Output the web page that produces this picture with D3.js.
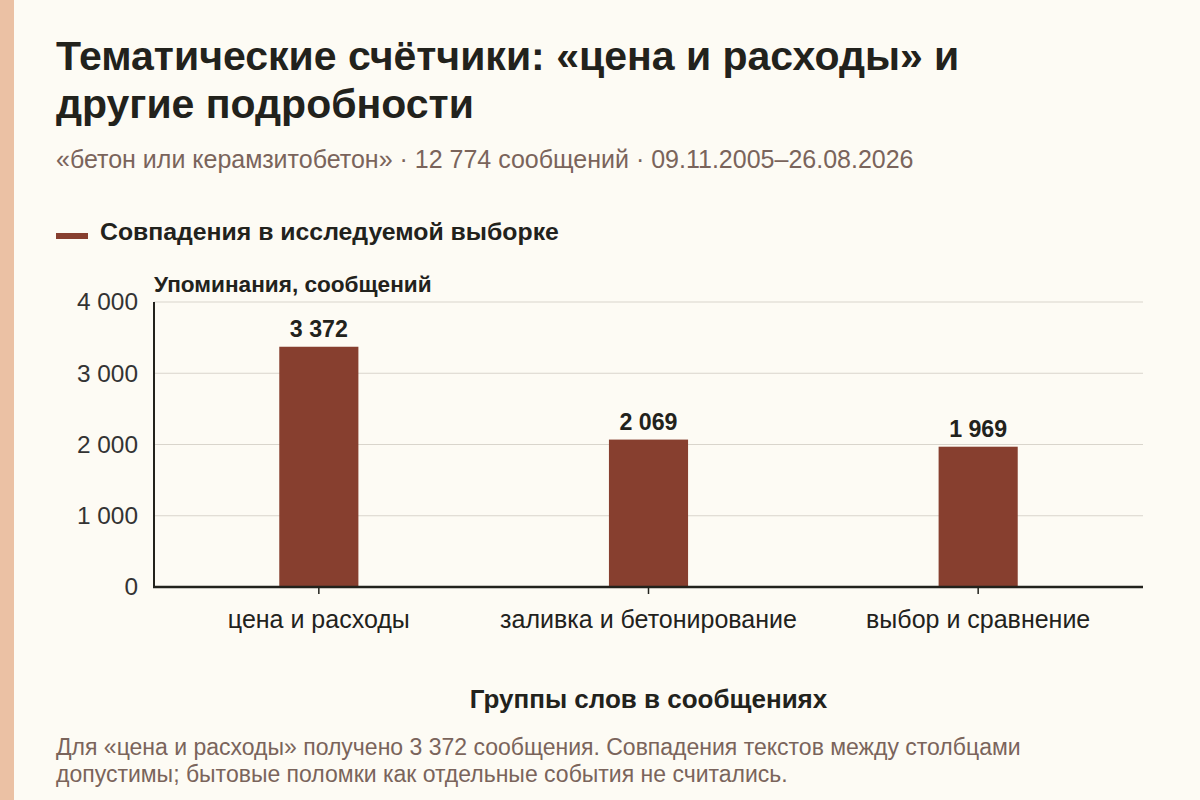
<!DOCTYPE html>
<html>
<head>
<meta charset="utf-8">
<script src="https://cdn.jsdelivr.net/npm/d3@7"></script>
<style>
  html, body { margin: 0; padding: 0; background: #fdfbf4; }
  svg { display: block; font-family: "Liberation Sans", Arial, sans-serif; }
</style>
</head>
<body>
<script>
(function(){
'use strict';

var categories = ['цена и расходы', 'заливка и бетонирование', 'выбор и сравнение'];
var values = [3372, 2069, 1969];
var yTicks = [0, 1000, 2000, 3000, 4000];
var titleLines = ['Тематические счётчики: «цена и расходы» и', 'другие подробности'];
var subtitle = '«бетон или керамзитобетон» · 12 774 сообщений · 09.11.2005–26.08.2026';
var legendLabel = 'Совпадения в исследуемой выборке';
var yTitle = 'Упоминания, сообщений';
var xTitle = 'Группы слов в сообщениях';
var noteLines = ['Для «цена и расходы» получено 3 372 сообщения. Совпадения текстов между столбцами',
                 'допустимы; бытовые поломки как отдельные события не считались.'];

var W = 1200, H = 800;
var barColor = '#873f2f';
var ink = '#22221c';
var muted = '#7a645b';
var font = '"Liberation Sans", Arial, sans-serif';

var fmt = function(v){ return d3.format(',')(v).replace(/,/g, ' '); };

var svg = d3.select('body').append('svg')
            .attr('width', W)
            .attr('height', H);

svg.append('rect').attr('width', W).attr('height', H).attr('fill', '#fdfbf4');
svg.append('rect').attr('width', 14).attr('height', H).attr('fill', '#ebc1a4');

// title block
svg.selectAll('text.title')
   .data(titleLines)
   .enter().append('text')
   .attr('class', 'title')
   .attr('x', 56)
   .attr('y', function(d, i){ return 70 + i * 48; })
   .attr('fill', ink)
   .attr('font-size', 41)
   .attr('font-weight', 'bold')
   .text(function(d){ return d; });

svg.append('text')
   .attr('x', 56).attr('y', 168)
   .attr('fill', muted)
   .attr('font-size', 25)
   .text(subtitle);

// legend
svg.append('rect')
   .attr('x', 56).attr('y', 233)
   .attr('width', 32).attr('height', 6)
   .attr('fill', barColor);
svg.append('text')
   .attr('x', 100).attr('y', 240)
   .attr('fill', ink)
   .attr('font-size', 24.8)
   .attr('font-weight', 'bold')
   .text(legendLabel);

var margin = {left: 154, right: 1143, top: 302, bottom: 587};

var x = d3.scaleBand()
          .domain(categories)
          .range([margin.left, margin.right])
          .paddingInner(0.76)
          .paddingOuter(0.38);

var y = d3.scaleLinear()
          .domain([0, 4000])
          .range([margin.bottom, margin.top]);

// gridlines
svg.append('g')
   .selectAll('line')
   .data(yTicks.slice(1))
   .enter().append('line')
   .attr('x1', margin.left).attr('x2', margin.right)
   .attr('y1', function(d){ return y(d); })
   .attr('y2', function(d){ return y(d); })
   .attr('stroke', '#d9d5cc')
   .attr('stroke-width', 1.2);

// y axis labels
var yAxis = svg.append('g')
   .attr('transform', 'translate(' + margin.left + ',0)')
   .call(d3.axisLeft(y).tickValues(yTicks).tickFormat(fmt).tickSize(0).tickPadding(16));
yAxis.select('.domain').remove();
yAxis.selectAll('text')
     .attr('font-size', 24.4)
     .attr('fill', '#333')
     .attr('font-family', font);

svg.append('text')
   .attr('x', margin.left).attr('y', 292)
   .attr('fill', ink)
   .attr('font-size', 22.6)
   .attr('font-weight', 'bold')
   .text(yTitle);

// bars
svg.append('g')
   .selectAll('rect')
   .data(values)
   .enter().append('rect')
   .attr('x', function(d, i){ return x(categories[i]); })
   .attr('y', function(d){ return y(d); })
   .attr('width', x.bandwidth())
   .attr('height', function(d){ return y(0) - y(d); })
   .attr('fill', barColor);

svg.append('g')
   .selectAll('text')
   .data(values)
   .enter().append('text')
   .attr('x', function(d, i){ return x(categories[i]) + x.bandwidth() / 2; })
   .attr('y', function(d){ return y(d) - 10; })
   .attr('text-anchor', 'middle')
   .attr('fill', ink)
   .attr('font-size', 23.2)
   .attr('font-weight', 'bold')
   .text(function(d){ return fmt(d); });

// x axis
var xAxis = svg.append('g')
   .attr('transform', 'translate(0,' + margin.bottom + ')')
   .call(d3.axisBottom(x).tickSize(7).tickPadding(16).tickSizeOuter(0));
xAxis.select('.domain').remove();
xAxis.selectAll('line').attr('stroke', ink).attr('stroke-width', 1.5);
xAxis.selectAll('text')
     .attr('font-size', 25)
     .attr('fill', ink)
     .attr('font-family', font);

// axis lines
svg.append('line')
   .attr('x1', margin.left).attr('x2', margin.left)
   .attr('y1', margin.top).attr('y2', margin.bottom + 1)
   .attr('stroke', ink).attr('stroke-width', 2);
svg.append('line')
   .attr('x1', margin.left - 1).attr('x2', margin.right)
   .attr('y1', margin.bottom).attr('y2', margin.bottom)
   .attr('stroke', ink).attr('stroke-width', 2.5);

svg.append('text')
   .attr('x', (margin.left + margin.right) / 2).attr('y', 708)
   .attr('text-anchor', 'middle')
   .attr('fill', ink)
   .attr('font-size', 26)
   .attr('font-weight', 'bold')
   .text(xTitle);

svg.selectAll('text.note')
   .data(noteLines)
   .enter().append('text')
   .attr('class', 'note')
   .attr('x', 56)
   .attr('y', function(d, i){ return 755 + i * 27; })
   .attr('fill', muted)
   .attr('font-size', 23)
   .text(function(d){ return d; });

})();
</script>
</body>
</html>
